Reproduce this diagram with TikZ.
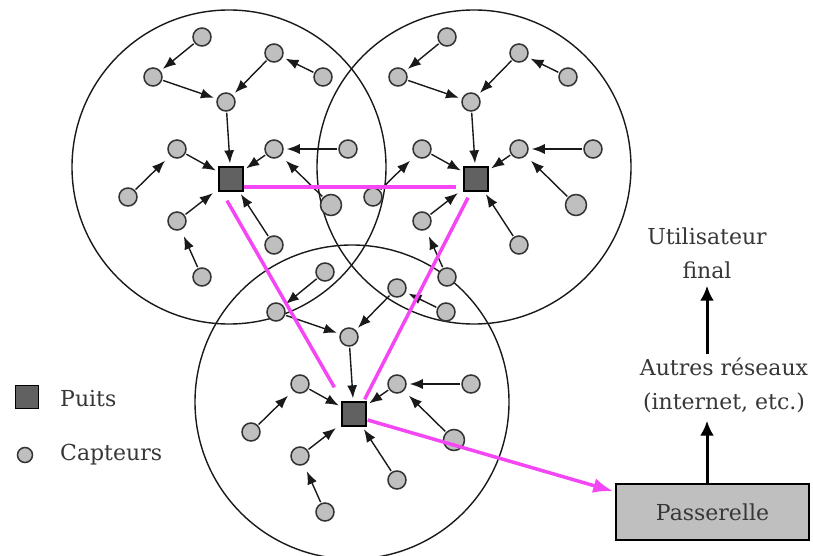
\documentclass[tikz,border=0pt]{standalone}
\usepackage{fontspec}
\setmainfont{DejaVu Serif}
\usetikzlibrary{arrows.meta,calc}
\definecolor{mag}{RGB}{245,70,245}
\definecolor{txt}{RGB}{55,55,55}
\tikzset{
 sensor/.style={circle,draw=black!80,line width=1.5pt,fill=black!25,minimum size=18pt,inner sep=0pt},
 sink/.style={rectangle,draw=black,line width=1.3pt,fill=black!62,minimum size=24pt,inner sep=0pt},
 zone/.style={draw=black!90,line width=1.4pt},
 arr/.style={-{Latex[length=13pt,width=10pt]},line width=1.4pt,draw=black!90,shorten >=3pt,shorten <=1pt},
 far/.style={shorten >=7pt},
 link/.style={draw=mag,line width=3.5pt},
 bigarr/.style={-{Latex[length=15pt,width=14pt]},line width=3pt},
 lbl/.style={text=txt,font=\fontsize{22}{34}\selectfont,align=center,inner sep=0pt},
}
\newcommand\wsncluster[3]{%
 \begin{scope}[shift={(#2,#3)}]
  \node[sensor] (#1a) at (-29,-142) {};
  \node[sensor] (#1b) at (-78,-102) {};
  \node[sensor] (#1c) at (-5,-77) {};
  \node[sensor] (#1d) at (43,-126) {};
  \node[sensor] (#1e) at (92,-102) {};
  \node[sensor] (#1f) at (-54,-30) {};
  \node[sensor] (#1g) at (43,-30) {};
  \node[sensor] (#1h) at (117,-30) {};
  \node[sensor,minimum width=21pt] (#1m) at (100,26) {};
  \node[sensor] (#1i) at (-103,18) {};
  \node[sensor] (#1j) at (-54,42) {};
  \node[sensor] (#1k) at (-29,98) {};
  \node[sensor] (#1l) at (43,66) {};
  \node[sink] (#1s) at (0,0) {};
  \draw[arr] (#1a) -- (#1b);
  \draw[arr] (#1b) -- (#1c);
  \draw[arr] (#1d) -- (#1c);
  \draw[arr] (#1e) -- (#1d);
  \draw[arr] (#1c) -- (#1s);
  \draw[arr] (#1f) -- (#1s);
  \draw[arr,far] (#1i) -- (#1f);
  \draw[arr] (#1g) -- (#1s);
  \draw[arr] (#1h) -- (#1g);
  \draw[arr,far] (#1m) -- (#1g);
  \draw[arr,far] (#1j) -- (#1s);
  \draw[arr,far] (#1k) -- (#1j);
  \draw[arr] (#1l) -- (#1s);
 \end{scope}}
\begin{document}
\begin{tikzpicture}[x=1pt,y=-1pt]
\useasboundingbox (0,0) rectangle (813,556);
\fill[white] (0,0) rectangle (813,556);
% zones
\draw[zone] (229,167) circle[radius=157pt];
\draw[zone] (474,167) circle[radius=157pt];
\draw[zone] (352,402) circle[radius=157pt];
% clusters
\wsncluster{A}{231}{179}
\wsncluster{B}{476}{179}
\wsncluster{C}{354}{414}
% legend
\node[sink,minimum size=23pt] (legs) at (27,397) {};
\node[lbl,anchor=west] (legst) at (60,399) {Puits};
\node[sensor,minimum size=15pt] (legc) at (25,455) {};
\node[lbl,anchor=west] (legct) at (60,455) {Capteurs};
% right side
\node[draw,line width=1.5pt,fill=black!25,minimum width=193pt,minimum height=56pt,lbl] (pass) at (712.5,512) {Passerelle};
\node[lbl] (autres) at (724,385) {Autres réseaux\\(internet, etc.)};
\node[lbl] (util) at (707,253) {Utilisateur\\final};
\draw[bigarr,shorten >=8pt] (pass.north -| util.center) -- (autres.south -| util.center);
\draw[bigarr,shorten <=3pt,shorten >=7pt] (autres.north -| util.center) -- (util.south);
% magenta links
\draw[link,shorten >=7pt] ($(As.east)+(0,8)$) -- ($(Bs.west)+(0,8)$);
\draw[link] ($(As.south)+(-4,9)$) -- ($(Cs.north west)+(-7,-14)$);
\draw[link] ($(Bs.south)+(-8,6)$) -- ($(Cs.north east)+(-2,-2)$);
\draw[link,-{Latex[length=20pt,width=15pt]}] ($(Cs.east)+(1,6)$) -- ($(pass.north west)+(-2,8)$);
\end{tikzpicture}
\end{document}
